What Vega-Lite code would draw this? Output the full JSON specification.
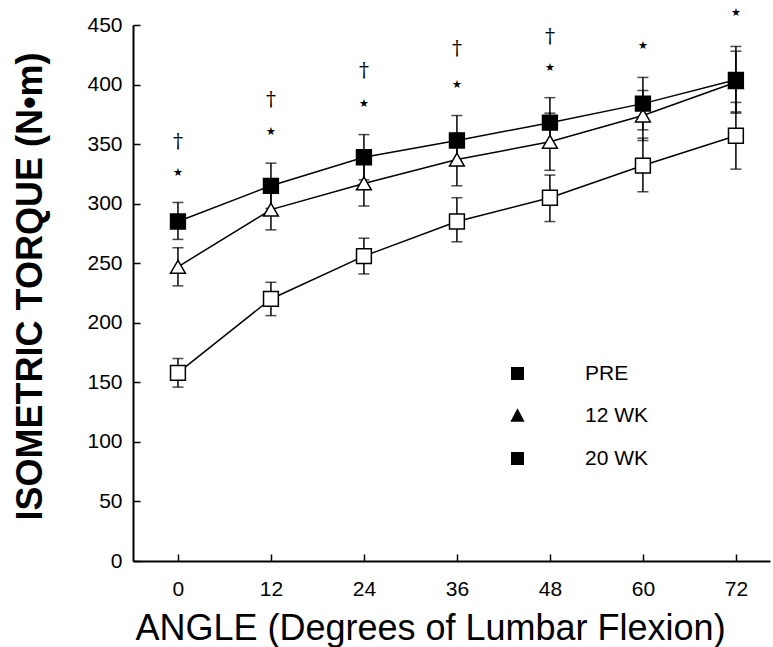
{
  "$schema": "https://vega.github.io/schema/vega-lite/v6.json",
  "width": 637,
  "height": 536,
  "autosize": "none",
  "padding": {"left": 133, "top": 25, "right": 3, "bottom": 86},
  "background": "white",
  "config": {
    "view": {"stroke": null},
    "axis": {
      "labelFont": "Liberation Sans",
      "titleFont": "Liberation Sans",
      "labelColor": "black",
      "titleColor": "black",
      "domainColor": "black",
      "tickColor": "black",
      "domainWidth": 2,
      "tickWidth": 1.5,
      "grid": false
    }
  },
  "datasets": {
    "means": [
      {"angle": 0, "group": "PRE", "torque": 158, "lo": 146, "hi": 170},
      {"angle": 12, "group": "PRE", "torque": 220, "lo": 206, "hi": 234},
      {"angle": 24, "group": "PRE", "torque": 256, "lo": 241, "hi": 271},
      {"angle": 36, "group": "PRE", "torque": 285, "lo": 268, "hi": 305},
      {"angle": 48, "group": "PRE", "torque": 305, "lo": 285, "hi": 324},
      {"angle": 60, "group": "PRE", "torque": 332, "lo": 310, "hi": 355},
      {"angle": 72, "group": "PRE", "torque": 357, "lo": 329, "hi": 385},
      {"angle": 0, "group": "12 WK", "torque": 247, "lo": 231, "hi": 263},
      {"angle": 12, "group": "12 WK", "torque": 295, "lo": 278, "hi": 312},
      {"angle": 24, "group": "12 WK", "torque": 317, "lo": 298, "hi": 336},
      {"angle": 36, "group": "12 WK", "torque": 337, "lo": 315, "hi": 359},
      {"angle": 48, "group": "12 WK", "torque": 352, "lo": 328, "hi": 376},
      {"angle": 60, "group": "12 WK", "torque": 374, "lo": 353, "hi": 395},
      {"angle": 72, "group": "12 WK", "torque": 402, "lo": 377, "hi": 428},
      {"angle": 0, "group": "20 WK", "torque": 285, "lo": 270, "hi": 301},
      {"angle": 12, "group": "20 WK", "torque": 315, "lo": 296, "hi": 334},
      {"angle": 24, "group": "20 WK", "torque": 339, "lo": 320, "hi": 358},
      {"angle": 36, "group": "20 WK", "torque": 353, "lo": 332, "hi": 374},
      {"angle": 48, "group": "20 WK", "torque": 368, "lo": 347, "hi": 389},
      {"angle": 60, "group": "20 WK", "torque": 384, "lo": 362, "hi": 406},
      {"angle": 72, "group": "20 WK", "torque": 404, "lo": 376, "hi": 432}
    ],
    "marks": [
      {"angle": 0, "pos": 326, "sym": "★", "kind": "star"},
      {"angle": 12, "pos": 360, "sym": "★", "kind": "star"},
      {"angle": 24, "pos": 384, "sym": "★", "kind": "star"},
      {"angle": 36, "pos": 400, "sym": "★", "kind": "star"},
      {"angle": 48, "pos": 414, "sym": "★", "kind": "star"},
      {"angle": 60, "pos": 432, "sym": "★", "kind": "star"},
      {"angle": 72, "pos": 460, "sym": "★", "kind": "star"},
      {"angle": 0, "pos": 352, "sym": "†", "kind": "dagger"},
      {"angle": 12, "pos": 387, "sym": "†", "kind": "dagger"},
      {"angle": 24, "pos": 411, "sym": "†", "kind": "dagger"},
      {"angle": 36, "pos": 430, "sym": "†", "kind": "dagger"},
      {"angle": 48, "pos": 440, "sym": "†", "kind": "dagger"}
    ]
  },
  "resolve": {"scale": {"shape": "independent"}},
  "encoding": {
    "x": {
      "field": "angle",
      "type": "quantitative",
      "scale": {"domain": [-5.8, 76.4], "nice": false, "zero": false},
      "axis": {
        "values": [0, 12, 24, 36, 48, 60, 72],
        "title": "ANGLE (Degrees of Lumbar Flexion)",
        "titleFontSize": 36,
        "titleFontWeight": "normal",
        "titleX": 297,
        "titlePadding": 12,
        "labelFontSize": 21,
        "labelPadding": 24,
        "tickSize": -7
      }
    }
  },
  "layer": [
    {
      "data": {"name": "means"},
      "mark": {"type": "line", "color": "black", "strokeWidth": 1.5},
      "encoding": {
        "y": {
          "field": "torque",
          "type": "quantitative",
          "scale": {"domain": [0, 450], "nice": false},
          "axis": {
            "values": [0, 50, 100, 150, 200, 250, 300, 350, 400, 450],
            "title": "ISOMETRIC TORQUE (N•m)",
            "titleFontSize": 36,
            "titleFontWeight": "bold",
            "titleX": -84,
            "titleY": 261,
            "labelFontSize": 21,
            "labelPadding": 18,
            "tickSize": -7
          }
        },
        "detail": {"field": "group"}
      }
    },
    {
      "data": {"name": "means"},
      "mark": {"type": "rule", "color": "black", "strokeWidth": 1.5},
      "encoding": {
        "y": {"field": "lo", "type": "quantitative"},
        "y2": {"field": "hi"}
      }
    },
    {
      "data": {"name": "means"},
      "mark": {"type": "tick", "orient": "horizontal", "color": "black", "thickness": 1.5, "size": 11},
      "encoding": {"y": {"field": "lo", "type": "quantitative"}}
    },
    {
      "data": {"name": "means"},
      "mark": {"type": "tick", "orient": "horizontal", "color": "black", "thickness": 1.5, "size": 11},
      "encoding": {"y": {"field": "hi", "type": "quantitative"}}
    },
    {
      "data": {"name": "means"},
      "mark": {"type": "point", "filled": true, "stroke": "black", "strokeWidth": 1.5, "size": 220, "opacity": 1},
      "encoding": {
        "y": {"field": "torque", "type": "quantitative"},
        "shape": {
          "field": "group",
          "type": "nominal",
          "scale": {"domain": ["PRE", "12 WK", "20 WK"], "range": ["square", "triangle-up", "square"]},
          "legend": null
        },
        "fill": {
          "field": "group",
          "type": "nominal",
          "scale": {"domain": ["PRE", "12 WK", "20 WK"], "range": ["white", "white", "black"]},
          "legend": null
        }
      }
    },
    {
      "data": {"name": "means"},
      "mark": {"type": "point", "filled": true, "strokeWidth": 1.5, "size": 169, "opacity": 0},
      "encoding": {
        "y": {"field": "torque", "type": "quantitative"},
        "shape": {
          "field": "group",
          "type": "nominal",
          "scale": {"domain": ["PRE", "12 WK", "20 WK"], "range": ["M-6.5,0H-1M1,0H6.5M-1,-1H1V1H-1Z", "M-6.5,0H-0.63M0.63,0H6.5M0,-1.2L1.1,0.9H-1.1Z", "M-6.5,0H-1M1,0H6.5M-1,-1H1V1H-1Z"]},
          "legend": {
            "title": null,
            "orient": "none",
            "legendX": 374,
            "legendY": 338,
            "padding": 0,
            "symbolSize": 169,
            "symbolStrokeWidth": 1.5,
            "symbolOpacity": 1,
            "labelFont": "Liberation Sans",
            "labelFontSize": 21,
            "labelColor": "black",
            "labelOffset": 57,
            "rowPadding": 20.5
          }
        },
        "color": {
          "field": "group",
          "type": "nominal",
          "scale": {"domain": ["PRE", "12 WK", "20 WK"], "range": ["white", "white", "black"]},
          "legend": {"title": null}
        },
        "stroke": {
          "field": "group",
          "type": "nominal",
          "scale": {"domain": ["PRE", "12 WK", "20 WK"], "range": ["black", "black", "black"]},
          "legend": {"title": null}
        }
      }
    },
    {
      "data": {"name": "marks"},
      "transform": [{"filter": "datum.kind === 'star'"}],
      "mark": {"type": "text", "font": "DejaVu Sans", "fontSize": 11, "color": "black", "baseline": "middle"},
      "encoding": {
        "y": {"field": "pos", "type": "quantitative"},
        "text": {"field": "sym"}
      }
    },
    {
      "data": {"name": "marks"},
      "transform": [{"filter": "datum.kind === 'dagger'"}],
      "mark": {"type": "text", "font": "DejaVu Serif", "fontSize": 20, "color": "black", "baseline": "middle"},
      "encoding": {
        "y": {"field": "pos", "type": "quantitative"},
        "text": {"field": "sym"}
      }
    }
  ]
}
